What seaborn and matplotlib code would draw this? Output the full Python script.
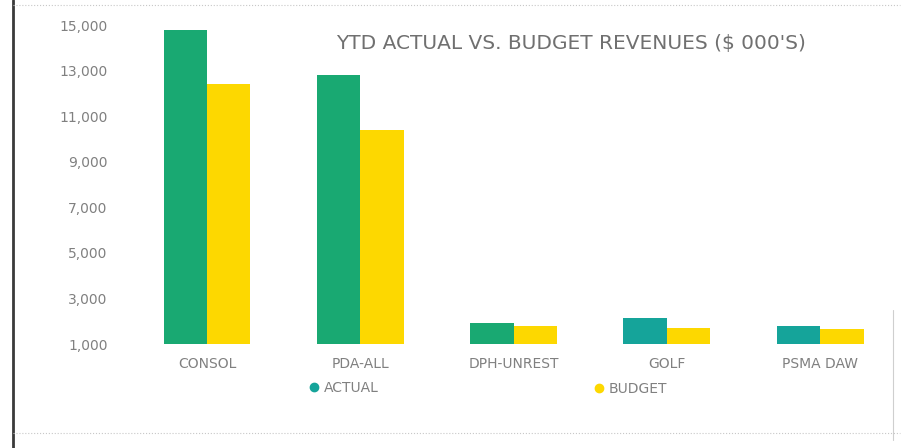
import matplotlib
matplotlib.use("Agg")
import matplotlib.pyplot as plt
from matplotlib.lines import Line2D
import seaborn as sns
import pandas as pd

# Revenue figures in $ thousands
categories = ["CONSOL", "PDA-ALL", "DPH-UNREST", "GOLF", "PSMA DAW"]
actual = [14800, 12800, 1900, 2150, 1800]
budget = [12400, 10400, 1800, 1700, 1650]
series = ["ACTUAL", "BUDGET"]
yticks = [1000, 3000, 5000, 7000, 9000, 11000, 13000, 15000]
title = "YTD ACTUAL VS. BUDGET REVENUES ($ 000'S)"

teal = "#15a49a"
green = "#19a972"
yellow = "#fdd800"
text_color = "#808080"

df = pd.DataFrame({
    "category": categories * 2,
    "series": [series[0]] * len(categories) + [series[1]] * len(categories),
    "value": actual + budget,
})

sns.set_theme(style="white")
plt.rcParams["font.family"] = ["DejaVu Sans"]

W, H = 909, 448
fig = plt.figure(figsize=(W / 100, H / 100), dpi=100)
fig.patch.set_facecolor("white")

left_px, right_px, top_px, bottom_px = 120, 880, 25, 344
ax = fig.add_axes([left_px / W, 1 - bottom_px / H,
                   (right_px - left_px) / W, (bottom_px - top_px) / H])

sns.barplot(data=df, x="category", y="value", hue="series",
            order=categories, hue_order=series,
            palette={"ACTUAL": teal, "BUDGET": yellow},
            width=0.567, gap=0, saturation=1, linewidth=0,
            legend=False, ax=ax)

# first three departments are shown in a greener shade of the actuals
actual_bars = ax.containers[0]
for bar in list(actual_bars)[:3]:
    bar.set_facecolor(green)

ax.set_xlim(-0.5675, 4.391)
ax.set_ylim(1000, 15000)
ax.set_yticks(yticks)
ax.set_yticklabels([f"{v:,}" for v in yticks])
ax.set_xlabel("")
ax.set_ylabel("")
for s in ax.spines.values():
    s.set_visible(False)
ax.tick_params(axis="y", length=0, pad=9, labelsize=10, labelcolor=text_color)
ax.tick_params(axis="x", length=0, pad=9, labelsize=10, labelcolor=text_color)
ax.grid(False)
ax.set_facecolor("white")

fig.text(571 / W, 1 - 44 / H, title, ha="center", va="center",
         fontsize=14.5, color="#707070")

# legend entries placed under the category labels
h_act = Line2D([], [], marker="o", linestyle="", color=teal, markersize=6)
h_bud = Line2D([], [], marker="o", linestyle="", color=yellow, markersize=6)
fig.legend([h_act], [series[0]], loc="center left",
           bbox_to_anchor=(296 / W, 1 - 388 / H), frameon=False,
           handletextpad=0.3, handlelength=0.8, fontsize=10, labelcolor=text_color)
fig.legend([h_bud], [series[1]], loc="center left",
           bbox_to_anchor=(581 / W, 1 - 389 / H), frameon=False,
           handletextpad=0.3, handlelength=0.8, fontsize=10, labelcolor=text_color)

# page frame around the chart
frame = [
    ((13, 13), (0, H), "#3a3a3a", 2.0, "-"),
    ((13, 900), (5, 5), "#c8c8c8", 0.8, ":"),
    ((13, 900), (433, 433), "#c8c8c8", 0.8, ":"),
    ((893, 893), (310, 440), "#cfcfcf", 0.8, "-"),
]
for xs, ys, col, lw, ls in frame:
    fig.add_artist(Line2D([x / W for x in xs], [1 - y / H for y in ys],
                          transform=fig.transFigure, color=col, linewidth=lw,
                          linestyle=ls))

fig.savefig("out.png", dpi=100, facecolor="white")
